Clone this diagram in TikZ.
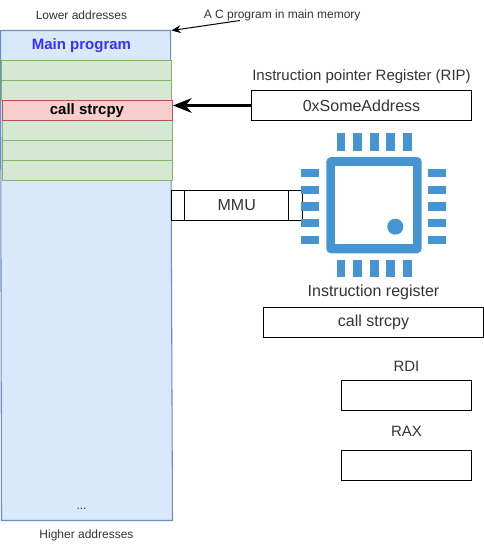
\documentclass[tikz,border=0pt]{standalone}
\usepackage{fontspec}
\usetikzlibrary{arrows.meta}
\setmainfont{Liberation Sans}
\definecolor{memfill}{HTML}{DAE8FC}
\definecolor{memline}{HTML}{6C8EBF}
\definecolor{rowfill}{HTML}{D5E8D4}
\definecolor{rowline}{HTML}{82B366}
\definecolor{hotfill}{HTML}{F8CECC}
\definecolor{hotline}{HTML}{B85450}
\definecolor{chipblue}{HTML}{4495D1}
\definecolor{inkgrey}{HTML}{333333}
\definecolor{titleblue}{HTML}{3333FF}
\newcommand{\pxfont}[1]{\fontsize{\dimexpr #1pt*3/4\relax}{\dimexpr #1pt*9/10\relax}\selectfont}
\tikzset{
  x=0.75pt,y=-0.75pt,
  lbl/.style={inner sep=0,text=inkgrey,font=\pxfont{12}},
  lblb/.style={inner sep=0,text=inkgrey,font=\pxfont{15}},
  lblc/.style={inner sep=0,text=inkgrey,font=\pxfont{16}},
  regbox/.style={draw=black,line width=0.75pt,fill=white,inner sep=0,text=inkgrey,font=\pxfont{16}},
  rowbox/.style={draw=rowline,fill=rowfill,line width=0.75pt},
  pin/.style={fill=chipblue,draw=none},
}
\begin{document}
\begin{tikzpicture}
\useasboundingbox (0,0) rectangle (484,550);
% memory
\draw[draw=memline,fill=memfill,line width=0.8pt] (0.5,30.5) -- (170.5,30.5) -- (172.5,520.5) -- (1.5,520.5) -- cycle;
\node[inner sep=0,text=titleblue,font=\pxfont{15}\bfseries] (title) at (81.5,46) {Main program};
\path[rowbox] (1.5,60.5) rectangle (171.5,80.5);
\path[rowbox] (1.5,80.5) rectangle (171.5,100.5);
\path[rowbox] (2,120.5) rectangle (172.5,140.5);
\path[rowbox] (2,140.5) rectangle (172.5,160.5);
\path[rowbox] (2.5,160.5) rectangle (172.5,180.5);
\draw[draw=hotline,fill=hotfill,line width=0.75pt] (2,100.5) rectangle (172.5,120.5);
\node[inner sep=0,text=black,font=\pxfont{15}\bfseries] (call) at (87,111) {call strcpy};
\node[lbl] (dots) at (81.5,509) {...};
\node[lbl] (low) at (81.5,15) {Lower addresses};
\node[lbl] (high) at (86.5,535) {Higher addresses};
\node[lbl,anchor=west] (cprog) at (203.5,15) {A C program in main memory};
\coordinate (memcorner) at (171.5,30.5);
\coordinate (cprogtail) at (240,20.5);
\draw[-{Stealth[length=7pt,width=6pt]},line width=0.75pt,black] (cprogtail) -- (memcorner);
% registers
\node[lblb] (riplbl) at (361.5,76.5) {Instruction pointer Register (RIP)};
\node[regbox,minimum width=220.5*0.75pt,minimum height=30*0.75pt] (rip) at (361.5,105.5) {0xSomeAddress};
\coordinate (rowtip) at (173,105.5);
\draw[-{Stealth[length=14pt,width=11pt]},line width=2pt,black] (rip.west) -- (rowtip);
\node[regbox,minimum width=130.5*0.75pt,minimum height=30*0.75pt] (mmu) at (236.75,205.5) {MMU};
\draw[line width=0.75pt] (184.5,190.5) -- (184.5,220.5) (288.5,190.5) -- (288.5,220.5);
% chip
\fill[chipblue,rounded corners=3.5pt] (326.3,157) rectangle (421.7,253.3);
\fill[white] (335,166) rectangle (413,244.3);
\fill[chipblue] (395.3,226.7) circle[radius=8];
\foreach \a/\b in {336.7/345.3,353.3/362,370/378.7,386.3/395,403.3/412}{
  \path[pin] (\a,133.3) rectangle (\b,150.7);
  \path[pin] (\a,260) rectangle (\b,277.3);
}
\foreach \a/\b in {168.7/177.3,185.7/194,202.3/210.7,218.7/227,235.7/244}{
  \path[pin] (301.3,\a) rectangle (319.3,\b);
  \path[pin] (428,\a) rectangle (446,\b);
}
\node[lblc] (irlbl) at (373.5,292.5) {Instruction register};
\node[regbox,minimum width=220*0.75pt,minimum height=30*0.75pt] (ir) at (373.5,322.5) {call strcpy};
\node[lblb] (rdilbl) at (406.5,366) {RDI};
\node[regbox,minimum width=130*0.75pt,minimum height=30*0.75pt] (rdi) at (406.5,395.5) {};
\node[lblb] (raxlbl) at (406.5,431) {RAX};
\node[regbox,minimum width=130*0.75pt,minimum height=30*0.75pt] (rax) at (406.5,465.5) {};
\end{tikzpicture}
\end{document}
